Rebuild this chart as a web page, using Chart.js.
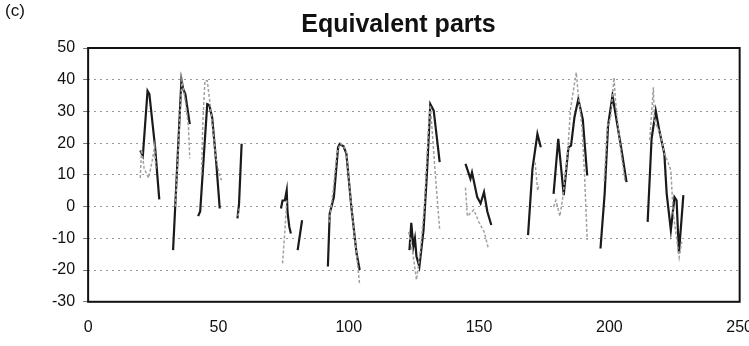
<!DOCTYPE html>
<html>
<head>
<meta charset="utf-8">
<script src="https://cdn.jsdelivr.net/npm/chart.js@4.4.1/dist/chart.umd.min.js"></script>
<style>
  html, body { margin: 0; padding: 0; background: #fff; overflow: hidden; }
  #wrap { position: relative; width: 749px; height: 346px; overflow: hidden; }
  #chart { position: absolute; left: 0; top: 0; }
  #panel { position: absolute; left: 5px; top: 1px; font: 17px "Liberation Sans", Arial, sans-serif; color: #111; }
</style>
</head>
<body>
<div id="wrap">
  <canvas id="chart" width="753" height="346"></canvas>
  <span id="panel">(c)</span>
</div>
<script>
// x position / value pairs, null y = break in the trace
const blackX = [
  20, 21, 22.8, 23.5, 25.7, 27.3, 28,
  32.6, 35.8, 36.5, 37.3, 39, 40,
  42.2, 43, 45.7, 46.5, 47.6, 49.2, 50.5, 52,
  57.3, 57.9, 58.9, 60,
  74, 74.6, 75.5, 76.2, 76.5, 77.2, 77.8, 79,
  80.4, 82.1, 84,
  92, 92.7, 94.3, 95.9, 96.5, 98, 99.1, 101, 103, 104.2, 110,
  123.3, 124, 124.8, 125.4, 126, 127.1, 128.7, 130, 131.3, 132.6, 134.9, 140,
  144.8, 146.7, 147.3, 149.3, 150.6, 151.9, 153.2, 154.7, 160,
  168.8, 170.5, 172.4, 173.7, 176,
  178.6, 180.4, 182.5, 184.3, 185.3, 186.6, 188.1, 189.8, 191.5, 194,
  196.6, 198.2, 199.5, 201.2, 202.7, 204.7, 206.6, 210,
  214.7, 216.2, 217.8, 219.1, 221.1, 222, 223.6, 225, 225.8, 226.7, 228.4
];
const blackY = [
  17.7, 16, 36.5, 35.5, 18.7, 2.3, null,
  -13.7, 39.9, 37, 35.5, 26, null,
  -3, -1.5, 32.3, 32, 28, 13.5, -0.6, null,
  -3.7, 0.8, 19.8, null,
  -0.6, 1.9, 2, 5.1, -1.6, -6.4, -8.5, null,
  -13.7, -4.3, null,
  -18.9, -2.2, 3, 18.7, 19.7, 19, 16.7, -0.1, -14.7, -20, null,
  -13.7, -5.1, -12.6, -10, -15.7, -18.9, -7.4, 10.4, 32.3, 30.3, 14, null,
  13.5, 8.8, 10.8, 3, 1, 4.6, -1.6, -5.8, null,
  -9, 12, 22.9, 18.7, null,
  4, 21.4, 3.6, 18.7, 19.2, 28.1, 33.9, 27.6, 9.8, null,
  -13.2, 4.1, 25.5, 35, 27.6, 17.7, 7.7, null,
  -4.8, 21.4, 30.2, 24.3, 16.7, 4.1, -7.4, 3, 2, -14.7, 3.6
];

const grayX = [
  20, 20.5, 21.5, 23.2, 24.5, 25.5, 26, 28,
  33.5, 35, 36, 37.5, 38.5, 39, 41,
  43.5, 44, 44.8, 45.7, 47, 49, 50.4, 51.2, 54,
  57.5, 58.2, 62,
  74.6, 75.6, 76.2, 80,
  92.5, 94, 95.5, 96.8, 99, 101, 103, 104.2, 110,
  123, 124.5, 126, 127.5, 129, 130.7, 131.3, 133.2, 134.9, 140,
  144.8, 145.5, 148, 150, 152, 153.5, 160,
  171.5, 172.5, 173, 176,
  178.6, 179.5, 181, 182, 184, 185.1, 187.3, 188, 189.5, 190.5, 191.5, 195,
  198, 199.3, 200.5, 201.8, 202.3, 204, 206, 210,
  215.5, 216.9, 217.3, 219.5, 221, 222.5, 223.6, 224.5, 226.8, 227.8
];
const grayY = [
  9, 18, 12, 9, 14, 19, 12, null,
  0, 25, 40, 32, 25, 15.2, null,
  10, 26, 39.7, 39.7, 31, 15.6, 10, 8.3, null,
  -3, 0, null,
  -17.9, -6.4, 2, null,
  -5, 5, 17, 20, 18, 0, -15, -24.7, null,
  -8, -14, -23.1, -14, 0, 26, 32, 10.4, -7.4, null,
  6, -3, -1, -5, -8, -13, null,
  14, 5, 7, null,
  -0.1, 2, -3, 2, 17, 30.8, 42.3, 36, 25, 9.8, -10.5, null,
  8, 25.5, 28, 40.7, 34, 20, 8, null,
  21, 37.6, 27, 23, 17, 14, 11.4, -2, -16, -11
];

const xTicks = [0, 50, 100, 150, 200, 250];
const yTicks = [-30, -20, -10, 0, 10, 20, 30, 40, 50];

const toPoints = (xs, ys) => xs.map((x, i) => ({ x: x, y: ys[i] }));

// plot frame drawn round the scale ranges
const frame = {
  id: 'frame',
  afterDraw(chart) {
    const { ctx, scales: { x, y } } = chart;
    const l = x.getPixelForValue(x.min), r = x.getPixelForValue(x.max);
    const t = y.getPixelForValue(y.max), b = y.getPixelForValue(y.min);
    ctx.save();
    ctx.strokeStyle = '#111';
    ctx.lineWidth = 2;
    ctx.strokeRect(l, t, r - l, b - t);
    ctx.restore();
  }
};

const font = '"Liberation Sans", Arial, sans-serif';

new Chart(document.getElementById('chart'), {
  type: 'line',
  data: {
    datasets: [
      {
        label: 'grey',
        data: toPoints(grayX, grayY),
        borderColor: '#a0a0a0',
        borderWidth: 1.5,
        borderDash: [3, 2],
        pointRadius: 0,
        spanGaps: false,
        tension: 0
      },
      {
        label: 'black',
        data: toPoints(blackX, blackY),
        borderColor: '#1a1a1a',
        borderWidth: 2.2,
        pointRadius: 0,
        spanGaps: false,
        tension: 0
      }
    ]
  },
  options: {
    responsive: false,
    animation: false,
    devicePixelRatio: 1,
    layout: { padding: { left: 44, right: 0, top: 0, bottom: 9 } },
    plugins: {
      legend: { display: false },
      tooltip: { enabled: false },
      title: {
        display: true,
        text: 'Equivalent parts',
        color: '#111',
        font: { family: font, size: 25, weight: 'bold' },
        padding: { top: 10, bottom: 8 }
      }
    },
    scales: {
      x: {
        type: 'linear',
        min: 0,
        max: 250,
        afterBuildTicks: axis => { axis.ticks = xTicks.map(v => ({ value: v })); },
        grid: { display: false, tickLength: 16 },
        border: { display: false },
        ticks: { color: '#111', padding: 0, maxRotation: 0, font: { family: font, size: 16 } }
      },
      y: {
        min: -30,
        max: 50,
        afterBuildTicks: axis => { axis.ticks = yTicks.map(v => ({ value: v })); },
        grid: { color: '#999', lineWidth: 1, tickLength: 5, tickColor: '#777' },
        border: { display: false, dash: [2, 4] },
        ticks: { color: '#111', padding: 8, font: { family: font, size: 16 } }
      }
    }
  },
  plugins: [frame]
});
</script>
</body>
</html>
